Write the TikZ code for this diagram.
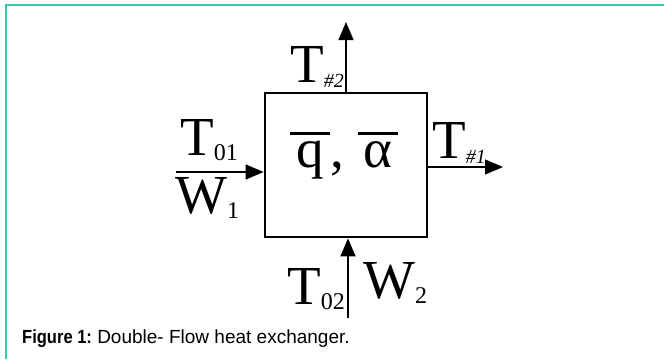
\documentclass[tikz,border=0pt]{standalone}
\usepackage{fontspec}
\setmainfont{Liberation Serif}
\setsansfont{Liberation Sans}
\usetikzlibrary{arrows.meta}
\definecolor{frameteal}{RGB}{62,198,170}
\newcommand\barred[1]{\ooalign{\hfil#1\hfil\cr\hfil\rule[32pt]{40pt}{2.6pt}\hfil\cr}}
\newcommand\lowsub[2]{{\fontsize{#1}{#1}\selectfont\raisebox{-5pt}{#2}}}
\tikzset{
  flow/.style={line width=1.2pt,-{Triangle[length=18pt,width=15pt]}},
  lbl/.style={inner sep=0pt,font=\fontsize{55}{55}\selectfont},
  exch/.style={draw,line width=2.7pt,minimum width=162pt,minimum height=144pt,inner sep=0pt},
}
\begin{document}
\begin{tikzpicture}[x=1pt,y=-1pt]
\useasboundingbox (0,0) rectangle (664,359);
\draw[frameteal,line width=2pt] (664,4.5) -- (6,4.5) -- (6,359);
\node[exch] (box) at (346,165) {};
\node[lbl,anchor=base] (center) at (344,167) {\barred{q}, \barred{α}};
% top outlet
\coordinate (topend) at (346,22);
\draw[flow] (346,93) -- (topend);
\node[lbl,anchor=base east] (th2) at (344,82) {T\lowsub{20}{\itshape \#2}};
% left inlet
\coordinate (leftstart) at (176,172);
\draw[flow] (leftstart) -- (box.west |- leftstart);
\node[lbl,anchor=base west] (t01) at (180,155) {T\lowsub{24}{01}};
\node[lbl,anchor=base west] (w1) at (175,213) {W\lowsub{24}{1}};
% right outlet
\coordinate (rightend) at (503,167);
\draw[flow] (box.east |- rightend) -- (rightend);
\node[lbl,anchor=base west] (th1) at (432,158) {T\lowsub{20}{\itshape \#1}};
% bottom inlet
\coordinate (botstart) at (348,318);
\draw[flow] (botstart) -- (box.south -| botstart);
\node[lbl,anchor=base east] (t02) at (345,304) {T\lowsub{24}{02}};
\node[lbl,anchor=base west] (w2) at (363,298) {W\lowsub{24}{2}};
% caption
\node[inner sep=0pt,anchor=base west,font=\sffamily\fontsize{19}{22}\selectfont] (cap) at (22,343)
  {\scalebox{0.87}[1]{\textbf{Figure 1:}} Double- Flow heat exchanger.};
\end{tikzpicture}
\end{document}
